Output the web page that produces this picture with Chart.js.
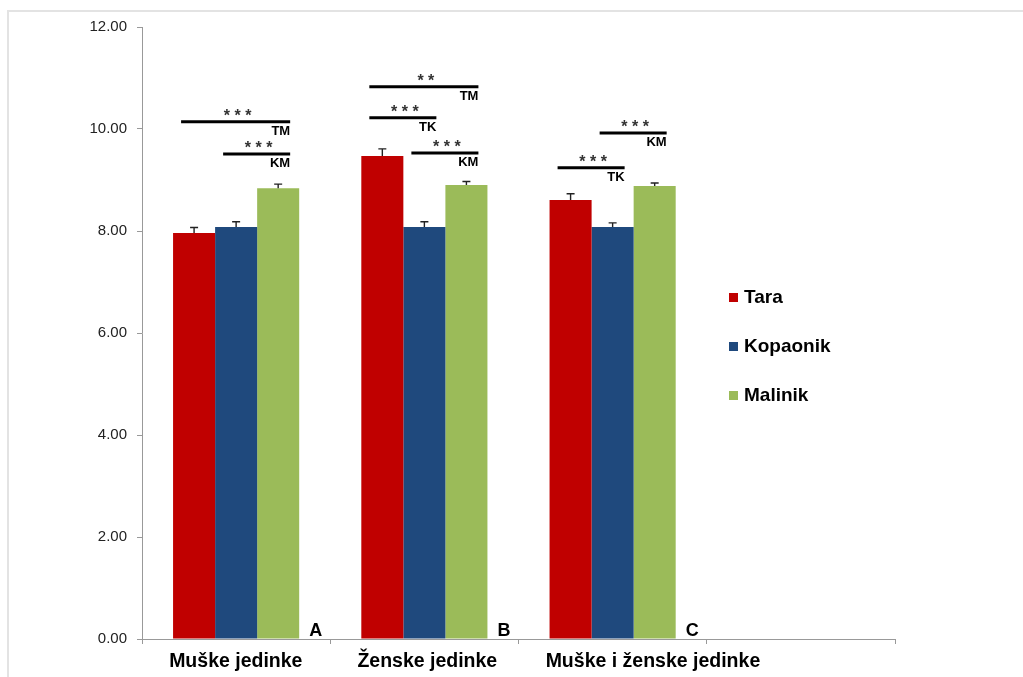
<!DOCTYPE html>
<html><head><meta charset="utf-8">
<script src="https://cdn.jsdelivr.net/npm/chart.js@4"></script>
<style>html,body{margin:0;padding:0;background:#fff}#wrap{width:1023px;height:677px;position:relative}</style>
</head><body><div id="wrap"><canvas id="c" width="1023" height="677"></canvas></div>
<script>
const categories = ['Muške jedinke', 'Ženske jedinke', 'Muške i ženske jedinke', ''];
const seriesNames = ['Tara', 'Kopaonik', 'Malinik'];
const seriesColors = ['#c00000', '#1f497d', '#9bbb59'];
const taraValues = [7.96, 9.47, 8.61, null];
const kopaonikValues = [8.08, 8.08, 8.08, null];
const malinikValues = [8.84, 8.90, 8.88, null];
const taraErrors = [0.11, 0.14, 0.12, null];
const kopaonikErrors = [0.10, 0.10, 0.08, null];
const malinikErrors = [0.08, 0.07, 0.06, null];
const groupLetters = ['A', 'B', 'C'];
// significance: group index, from series, to series, y level, stars, label
const sigGroup = [0, 0, 1, 1, 1, 2, 2];
const sigFrom = [0, 1, 0, 0, 1, 0, 1];
const sigTo = [2, 2, 2, 1, 2, 1, 2];
const sigLevel = [10.14, 9.51, 10.83, 10.22, 9.53, 9.24, 9.92];
const sigStars = ['* * *', '* * *', '* *', '* * *', '* * *', '* * *', '* * *'];
const sigLabels = ['TM', 'KM', 'TM', 'TK', 'KM', 'TK', 'KM'];
const yTicks = [0, 2, 4, 6, 8, 10, 12];

const values = [taraValues, kopaonikValues, malinikValues];
const errors = [taraErrors, kopaonikErrors, malinikErrors];

const FONT = '"Liberation Sans", Arial, sans-serif';

const extras = {
  id: 'extras',
  beforeDraw(chart) {
    const ctx = chart.ctx;
    ctx.save();
    ctx.strokeStyle = '#e3e3e3';
    ctx.lineWidth = 2;
    ctx.beginPath();
    ctx.moveTo(8, 677); ctx.lineTo(8, 11); ctx.lineTo(1023, 11);
    ctx.stroke();
    ctx.restore();
  },
  afterDatasetsDraw(chart) {
    const ctx = chart.ctx;
    const ys = chart.scales.y;
    ctx.save();
    // error bars
    ctx.strokeStyle = '#222';
    ctx.lineWidth = 1.4;
    for (let d = 0; d < values.length; d++) {
      const meta = chart.getDatasetMeta(d);
      meta.data.forEach((bar, i) => {
        const v = values[d][i], e = errors[d][i];
        if (v == null || e == null) return;
        const yt = ys.getPixelForValue(v + e);
        ctx.beginPath();
        ctx.moveTo(bar.x, bar.y);
        ctx.lineTo(bar.x, yt);
        ctx.moveTo(bar.x - 4, yt);
        ctx.lineTo(bar.x + 4, yt);
        ctx.stroke();
      });
    }
    // significance lines
    for (let k = 0; k < sigGroup.length; k++) {
      const g = sigGroup[k];
      const b1 = chart.getDatasetMeta(sigFrom[k]).data[g];
      const b2 = chart.getDatasetMeta(sigTo[k]).data[g];
      const x1 = b1.x - 13, x2 = b2.x + 12;
      const y = ys.getPixelForValue(sigLevel[k]);
      ctx.strokeStyle = '#000';
      ctx.lineWidth = 3;
      ctx.beginPath(); ctx.moveTo(x1, y); ctx.lineTo(x2, y); ctx.stroke();
      ctx.fillStyle = '#333';
      ctx.font = 'bold 16px ' + FONT;
      ctx.textAlign = 'center';
      ctx.textBaseline = 'alphabetic';
      ctx.fillText(sigStars[k], (x1 + x2) / 2 + 2, y - 1);
      ctx.fillStyle = '#000';
      ctx.font = 'bold 13px ' + FONT;
      ctx.textAlign = 'right';
      ctx.textBaseline = 'top';
      ctx.fillText(sigLabels[k], x2, y + 3);
    }
    // group letters
    ctx.fillStyle = '#000';
    ctx.font = 'bold 18px ' + FONT;
    ctx.textAlign = 'left';
    ctx.textBaseline = 'alphabetic';
    const last = chart.getDatasetMeta(values.length - 1);
    groupLetters.forEach((L, i) => {
      const bar = last.data[i];
      ctx.fillText(L, bar.x + bar.width / 2 + 10, ys.getPixelForValue(0) - 3);
    });
    // legend
    const ly = [297, 346, 395];
    ctx.font = 'bold 19px ' + FONT;
    ctx.textBaseline = 'middle';
    seriesNames.forEach((n, i) => {
      ctx.fillStyle = seriesColors[i];
      ctx.fillRect(729, ly[i] - 4, 9, 9);
      ctx.fillStyle = '#000';
      ctx.fillText(n, 744, ly[i] + 1);
    });
    ctx.restore();
  }
};

new Chart(document.getElementById('c'), {
  type: 'bar',
  data: {
    labels: categories,
    datasets: seriesNames.map((n, i) => ({
      label: n,
      data: values[i],
      backgroundColor: seriesColors[i],
      borderWidth: 0,
      barPercentage: 1,
      categoryPercentage: 0.67
    }))
  },
  options: {
    responsive: false,
    animation: false,
    devicePixelRatio: 1,
    layout: { padding: { left: 0, right: 128, top: 27, bottom: 0 } },
    plugins: { legend: { display: false }, tooltip: { enabled: false } },
    scales: {
      x: {
        grid: { display: true, drawOnChartArea: false, offset: true, tickLength: 5, color: '#999' },
        border: { color: '#999', width: 1 },
        ticks: { color: '#000', font: { family: FONT, size: 19.5, weight: 'bold' }, padding: 6, maxRotation: 0, autoSkip: false, align: 'start', labelOffset: -67 },
        afterFit(s) { s.height = 38; }
      },
      y: {
        min: 0, max: 12,
        afterBuildTicks(s) { s.ticks = yTicks.map(v => ({ value: v })); },
        grid: { display: true, drawOnChartArea: false, tickLength: 5, color: '#999' },
        border: { color: '#999', width: 1 },
        ticks: { color: '#222', font: { family: FONT, size: 15 }, padding: 10, callback: v => Number(v).toFixed(2) },
        afterFit(s) { s.width = 142; }
      }
    }
  },
  plugins: [extras]
});
</script></body></html>
